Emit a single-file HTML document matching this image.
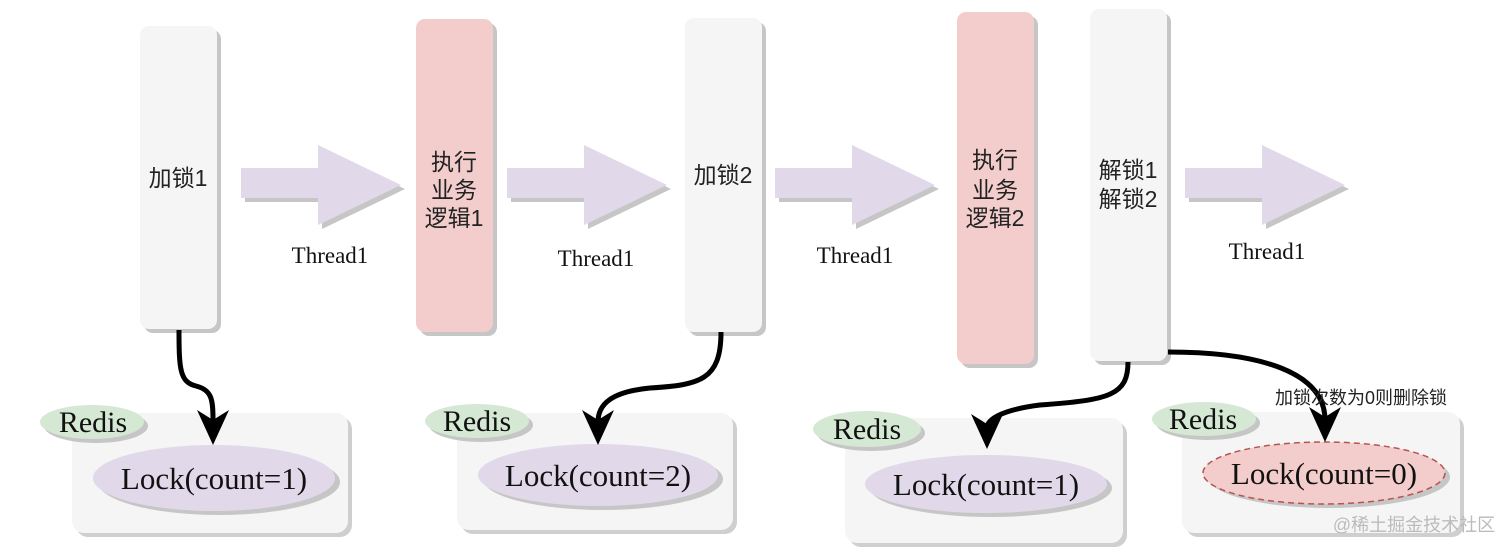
<!DOCTYPE html>
<html><head><meta charset="utf-8"><style>
html,body{margin:0;padding:0;background:#fff;width:1512px;height:553px;overflow:hidden}
svg{display:block}
.cj{font-family:"Liberation Sans","Noto Sans CJK SC",sans-serif;fill:#222}
.sf{font-family:"Liberation Serif","Noto Serif CJK SC",serif;fill:#111}
</style></head><body>
<svg width="1512" height="553" viewBox="0 0 1512 553" xmlns="http://www.w3.org/2000/svg">
<defs>
<g id="arr"><polygon points="0,0 77,0 77,-23 160,17 77,57 77,30 0,30"/></g>
</defs>
<g>
<rect x="144" y="30" width="77" height="303" rx="9" fill="#c6c6c6"/>
<rect x="140" y="26" width="77" height="303" rx="9" fill="#f5f5f5"/>
<rect x="420" y="23" width="77" height="313" rx="9" fill="#c6c6c6"/>
<rect x="416" y="19" width="77" height="313" rx="9" fill="#f2cdcc"/>
<rect x="689" y="22" width="77" height="314" rx="9" fill="#c6c6c6"/>
<rect x="685" y="18" width="77" height="314" rx="9" fill="#f5f5f5"/>
<rect x="961" y="16" width="77" height="352" rx="9" fill="#c6c6c6"/>
<rect x="957" y="12" width="77" height="352" rx="9" fill="#f2cdcc"/>
<rect x="1094" y="13" width="77" height="352" rx="9" fill="#c6c6c6"/>
<rect x="1090" y="9" width="77" height="352" rx="9" fill="#f5f5f5"/>
</g>
<text class="cj" x="178" y="186" font-size="23" text-anchor="middle">加锁1</text>
<text class="cj" x="454" y="170" font-size="23" text-anchor="middle">执行</text>
<text class="cj" x="454" y="198" font-size="23" text-anchor="middle">业务</text>
<text class="cj" x="454" y="226" font-size="23" text-anchor="middle">逻辑1</text>
<text class="cj" x="723" y="183" font-size="23" text-anchor="middle">加锁2</text>
<text class="cj" x="995" y="168" font-size="23" text-anchor="middle">执行</text>
<text class="cj" x="995" y="198" font-size="23" text-anchor="middle">业务</text>
<text class="cj" x="995" y="226" font-size="23" text-anchor="middle">逻辑2</text>
<text class="cj" x="1128" y="178" font-size="23" text-anchor="middle">解锁1</text>
<text class="cj" x="1128" y="207" font-size="23" text-anchor="middle">解锁2</text>
<g fill="#c6c6c6">
<use href="#arr" transform="translate(245,172)"/>
<use href="#arr" transform="translate(511,172)"/>
<use href="#arr" transform="translate(779,172)"/>
<use href="#arr" transform="translate(1189,172)"/>
</g>
<g fill="#e1d9e9">
<use href="#arr" transform="translate(241,168)"/>
<use href="#arr" transform="translate(507,168)"/>
<use href="#arr" transform="translate(775,168)"/>
<use href="#arr" transform="translate(1185,168)"/>
</g>
<g class="sf" font-size="23" text-anchor="middle">
<text x="330" y="263">Thread1</text>
<text x="596" y="266">Thread1</text>
<text x="855" y="263">Thread1</text>
<text x="1267" y="259">Thread1</text>
</g>
<rect x="76" y="417" width="276" height="120" rx="12" fill="#cfcfcf"/>
<rect x="72" y="413" width="276" height="120" rx="12" fill="#f5f5f5"/>
<rect x="461" y="417" width="276" height="117" rx="12" fill="#cfcfcf"/>
<rect x="457" y="413" width="276" height="117" rx="12" fill="#f5f5f5"/>
<rect x="849" y="422" width="278" height="125" rx="12" fill="#cfcfcf"/>
<rect x="845" y="418" width="278" height="125" rx="12" fill="#f5f5f5"/>
<rect x="1186" y="416" width="278" height="121" rx="12" fill="#cfcfcf"/>
<rect x="1182" y="412" width="278" height="121" rx="12" fill="#f5f5f5"/>
<g>
<ellipse cx="96" cy="426" rx="52" ry="17" fill="#c6c6c6"/><ellipse cx="92" cy="422" rx="52" ry="17" fill="#d5e8d4"/>
<ellipse cx="481" cy="425" rx="52" ry="17" fill="#c6c6c6"/><ellipse cx="477" cy="421" rx="52" ry="17" fill="#d5e8d4"/>
<ellipse cx="871" cy="433" rx="54" ry="18" fill="#c6c6c6"/><ellipse cx="867" cy="429" rx="54" ry="18" fill="#d5e8d4"/>
<ellipse cx="1208" cy="423" rx="52" ry="17" fill="#c6c6c6"/><ellipse cx="1204" cy="419" rx="52" ry="17" fill="#d5e8d4"/>
</g>
<g class="sf" font-size="30" text-anchor="middle">
<text x="93" y="432">Redis</text>
<text x="477" y="431">Redis</text>
<text x="867" y="439">Redis</text>
<text x="1203" y="429">Redis</text>
</g>
<ellipse cx="219" cy="482" rx="121" ry="33" fill="#c6c6c6"/><ellipse cx="214" cy="478" rx="121" ry="33" fill="#e1d9e9"/>
<ellipse cx="603" cy="479" rx="120" ry="31" fill="#c6c6c6"/><ellipse cx="598" cy="475" rx="120" ry="31" fill="#e1d9e9"/>
<ellipse cx="991" cy="488" rx="121" ry="29" fill="#c6c6c6"/><ellipse cx="986" cy="484" rx="121" ry="29" fill="#e1d9e9"/>
<ellipse cx="1329" cy="477" rx="121" ry="31" fill="#c6c6c6"/><ellipse cx="1324" cy="473" rx="121" ry="31" fill="#f2cdcc" stroke="#b85450" stroke-width="1.5" stroke-dasharray="6,4"/>
<g class="sf" font-size="31" text-anchor="middle">
<text x="214" y="489">Lock(count=1)</text>
<text x="598" y="486">Lock(count=2)</text>
<text x="986" y="495">Lock(count=1)</text>
<text x="1324" y="484">Lock(count=0)</text>
</g>
<g fill="none" stroke="#000" stroke-width="5">
<path d="M179,330 C179,370 180,382 196,386 C212,390 213,400 213,420"/>
<path d="M721,332 C721,380 700,385 650,388 C610,392 598,405 598,422"/>
<path d="M1128,362 C1128,395 1110,400 1040,405 C1000,410 987,420 987,428"/>
<path d="M1168,352 C1260,352 1325,372 1325,420"/>
</g>
<g fill="#000">
<polygon points="213,445 197,410 213,420 229,410"/>
<polygon points="598,445 582,410 598,420 614,410"/>
<polygon points="987,449 971,414 987,424 1003,414"/>
<polygon points="1325,442 1309,407 1325,417 1341,407"/>
</g>
<text class="cj" x="1361" y="404" font-size="18" text-anchor="middle" fill="#111">加锁次数为0则删除锁</text>
<text x="1414" y="531" font-size="18" text-anchor="middle" font-family="Liberation Sans,'Noto Sans CJK SC',sans-serif" fill="#bbbbbb">@稀土掘金技术社区</text>
</svg>
</body></html>
